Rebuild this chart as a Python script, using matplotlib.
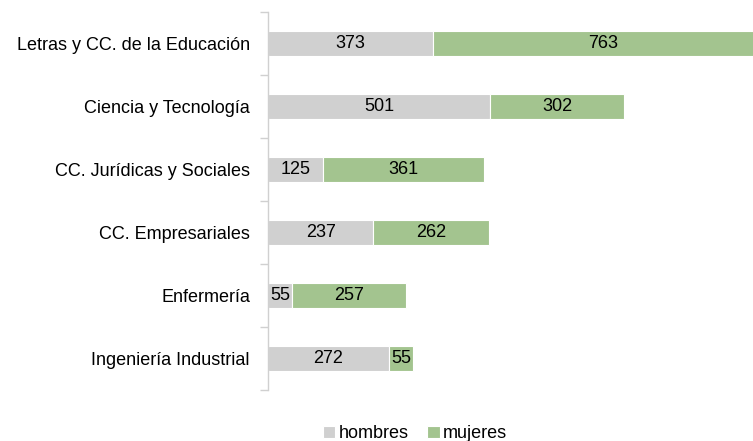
import matplotlib.pyplot as plt

plt.rcParams["font.family"] = ["Liberation Sans", "DejaVu Sans"]

# Data
carreras = ["Letras y CC. de la Educación", "Ciencia y Tecnología",
            "CC. Jurídicas y Sociales", "CC. Empresariales",
            "Enfermería", "Ingeniería Industrial"]
hombres = [373, 501, 125, 237, 55, 272]
mujeres = [763, 302, 361, 262, 257, 55]

gris = "#d0d0d0"
verde = "#a3c48f"
fs = 13

fig = plt.figure(figsize=(7.53, 4.41), dpi=100)
ax = fig.add_axes([268 / 753, 51 / 441, 504 / 753, 378 / 441])

y = list(range(len(carreras)))[::-1]
b1 = ax.barh(y, hombres, height=0.4, color=gris, edgecolor="white",
             linewidth=0.8, label="hombres")
b2 = ax.barh(y, mujeres, left=hombres, height=0.4, color=verde,
             edgecolor="white", linewidth=0.8, label="mujeres")
ax.bar_label(b1, label_type="center", fontsize=fs)
ax.bar_label(b2, label_type="center", fontsize=fs)

ax.set_xlim(0, 1136)
ax.set_ylim(-0.5, len(carreras) - 0.5)
ax.set_yticks(y)
ax.set_yticklabels(carreras, fontsize=fs)
ax.set_yticks([i - 0.5 for i in range(len(carreras) + 1)], minor=True)
ax.tick_params(axis="y", which="major", length=0, pad=13)
ax.tick_params(axis="y", which="minor", length=6, color="#d0d0d0", width=1)
ax.set_xticks([])
for s in ["top", "right", "bottom"]:
    ax.spines[s].set_visible(False)
ax.spines["left"].set_color("#d0d0d0")
ax.spines["left"].set_linewidth(1)

fig.legend(handles=[b1, b2], loc="lower center", bbox_to_anchor=(415 / 753, -0.04),
           ncol=2, frameon=False, fontsize=fs, handlelength=0.7,
           handleheight=0.7, handletextpad=0.2, columnspacing=1.0)

fig.savefig("out.png", dpi=100)
